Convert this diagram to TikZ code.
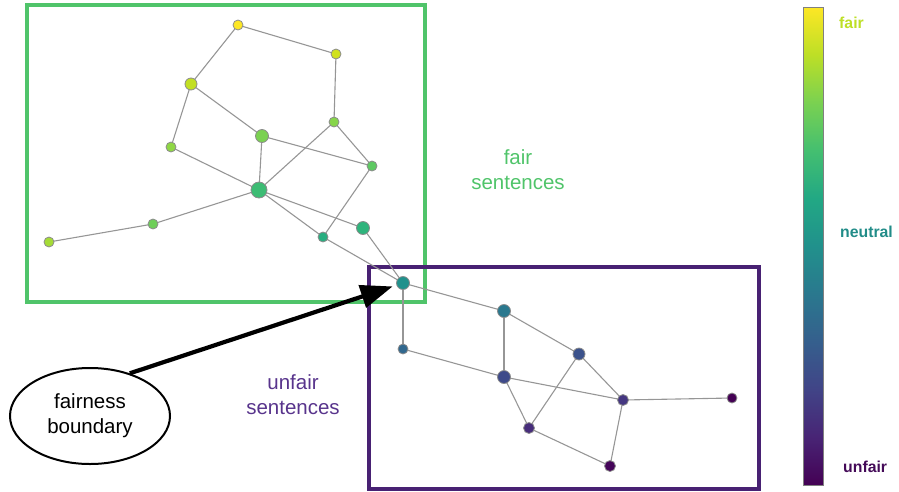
\documentclass[tikz,border=0pt]{standalone}
\usepackage{fontspec}
\setmainfont{Liberation Sans}
\usetikzlibrary{arrows.meta,shapes.geometric}
\pgfdeclarelayer{boxes}
\pgfdeclarelayer{edges}
\pgfsetlayers{boxes,edges,main}
\definecolor{vA}{HTML}{FDE725}
\definecolor{vB}{HTML}{D0E11C}
\definecolor{vC}{HTML}{C2DF23}
\definecolor{vD}{HTML}{86D549}
\definecolor{vE}{HTML}{7AD151}
\definecolor{vF}{HTML}{8FD744}
\definecolor{vG}{HTML}{5EC962}
\definecolor{vH}{HTML}{3DBC74}
\definecolor{vI}{HTML}{6ECE58}
\definecolor{vJ}{HTML}{A5DB36}
\definecolor{vK}{HTML}{2FB47C}
\definecolor{vL}{HTML}{28AE80}
\definecolor{vM}{HTML}{21918C}
\definecolor{vN}{HTML}{2A788E}
\definecolor{vO}{HTML}{31688E}
\definecolor{vP}{HTML}{3B528B}
\definecolor{vQ}{HTML}{3E4A89}
\definecolor{vR}{HTML}{453781}
\definecolor{vS}{HTML}{440154}
\definecolor{vT}{HTML}{472D7B}
\definecolor{vU}{HTML}{450559}
\definecolor{fairgreen}{RGB}{80,196,106}
\definecolor{unfairpurple}{RGB}{72,33,115}
\definecolor{unfairtext}{RGB}{88,52,140}
\definecolor{cbfair}{HTML}{BDDF26}
\definecolor{cbneutral}{RGB}{33,140,136}
\definecolor{cbunfair}{RGB}{68,10,88}
\definecolor{edgegray}{RGB}{150,150,150}
\definecolor{nodeborder}{RGB}{140,140,140}
\definecolor{c0}{HTML}{440154}
\definecolor{c1}{HTML}{482475}
\definecolor{c2}{HTML}{414487}
\definecolor{c3}{HTML}{355F8D}
\definecolor{c4}{HTML}{2A788E}
\definecolor{c5}{HTML}{21918C}
\definecolor{c6}{HTML}{22A884}
\definecolor{c7}{HTML}{44BF70}
\definecolor{c8}{HTML}{7AD151}
\definecolor{c9}{HTML}{BDDF26}
\definecolor{c10}{HTML}{FDE725}
\pgfdeclareverticalshading{viridis}{100bp}{color(0bp)=(c0); color(25bp)=(c0); color(30bp)=(c1); color(35bp)=(c2); color(40bp)=(c3); color(45bp)=(c4); color(50bp)=(c5); color(55bp)=(c6); color(60bp)=(c7); color(65bp)=(c8); color(70bp)=(c9); color(75bp)=(c10); color(100bp)=(c10)}
\tikzset{
  gnode/.style={circle, draw=nodeborder, line width=0.8pt, inner sep=0pt, minimum size=#1},
  gedge/.style={draw=edgegray, line width=1.1pt},
  bigtext/.style={font=\fontsize{20.5}{25}\selectfont, align=center, inner sep=0pt},
  cblabel/.style={font=\fontsize{15.8}{18}\selectfont\bfseries, inner sep=0pt},
  regionbox/.style={line width=3.2pt}
}
\begin{document}
\begin{tikzpicture}[x=1pt,y=-1pt]
\useasboundingbox (0,0) rectangle (899,491);
% region boxes
\begin{pgfonlayer}{boxes}
\draw[regionbox, draw=fairgreen] (27,5) rectangle (425,302);
\draw[regionbox, draw=unfairpurple] (369,267) rectangle (759,489);
\end{pgfonlayer}
% nodes
\node[gnode=10pt, fill=vA] (A) at (238,25) {};
\node[gnode=10pt, fill=vB] (B) at (336,54) {};
\node[gnode=12pt, fill=vC] (C) at (191,84) {};
\node[gnode=10pt, fill=vD] (D) at (334,122) {};
\node[gnode=13pt, fill=vE] (E) at (262,136) {};
\node[gnode=10pt, fill=vF] (F) at (171,147) {};
\node[gnode=10pt, fill=vG] (G) at (372,166) {};
\node[gnode=16pt, fill=vH] (H) at (259,190) {};
\node[gnode=10pt, fill=vI] (I) at (153,224) {};
\node[gnode=10pt, fill=vJ] (J) at (49,242) {};
\node[gnode=13pt, fill=vK] (K) at (363,228) {};
\node[gnode=10pt, fill=vL] (L) at (323,237) {};
\node[gnode=13pt, fill=vM] (M) at (403,283) {};
\node[gnode=13pt, fill=vN] (N) at (504,311) {};
\node[gnode=10pt, fill=vO] (O) at (403,349) {};
\node[gnode=12pt, fill=vP] (P) at (579,354) {};
\node[gnode=13pt, fill=vQ] (Q) at (504,377) {};
\node[gnode=11pt, fill=vR] (R) at (623,400) {};
\node[gnode=10pt, fill=vS] (S) at (732,398) {};
\node[gnode=11pt, fill=vT] (T) at (529,428) {};
\node[gnode=11pt, fill=vU] (U) at (610,466) {};
% edges
\begin{pgfonlayer}{edges}
\foreach \a/\b in {A/B,A/C,B/D,C/F,C/E,E/G,D/G,D/H,E/H,F/H,H/I,I/J,H/K,H/L,G/L,L/M,K/M,M/N,M/O,N/Q,N/P,O/Q,Q/R,P/R,P/T,Q/T,T/U,R/U,R/S}
  \draw[gedge] (\a.center) -- (\b.center);
\end{pgfonlayer}
% labels
\node[bigtext, text=fairgreen] (fairlbl) at (518,170) {fair\\sentences};
\node[bigtext, text=unfairtext] (unfairlbl) at (293,395) {unfair\\sentences};
% fairness boundary
\node[ellipse, draw=black, line width=2pt, minimum width=160pt, minimum height=96pt, bigtext] (fb) at (90,416) {fairness\\boundary};
\draw[line width=4.2pt, -{Triangle[length=32pt,width=23pt]}, shorten >=4pt] (fb.47) -- (M);
% colour bar
\shade[shading=viridis] (803,7) rectangle (823,485);
\draw[draw=gray, line width=1pt] (803,7) rectangle (823,485);
\node[cblabel, text=cbfair, anchor=west] (cbf) at (839,23) {fair};
\node[cblabel, text=cbneutral, anchor=west] (cbn) at (840,232) {neutral};
\node[cblabel, text=cbunfair, anchor=west] (cbu) at (843,467) {unfair};
\end{tikzpicture}
\end{document}
